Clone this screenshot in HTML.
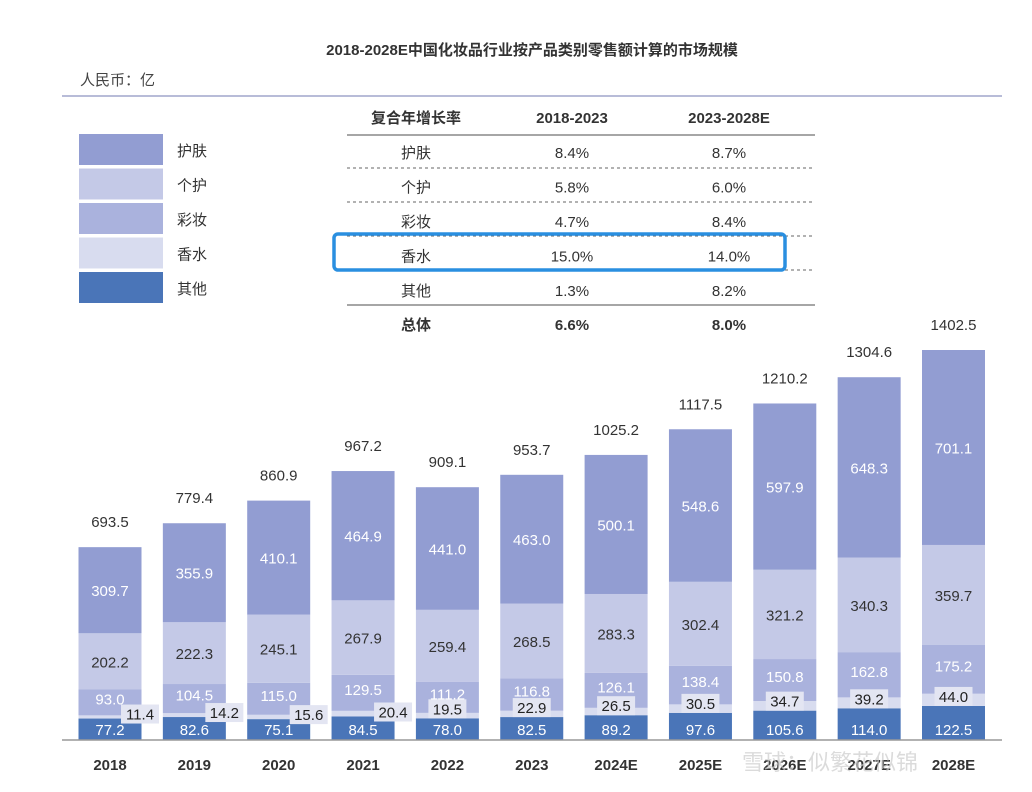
<!DOCTYPE html>
<html><head><meta charset="utf-8"><style>
body{margin:0;background:#fff;}
svg{display:block;font-family:"Liberation Sans","Noto Sans CJK SC",sans-serif;}
</style></head><body>
<svg id="chart" width="1032" height="792" viewBox="0 0 1032 792">
<text x="532" y="55" text-anchor="middle" font-size="15" font-weight="bold" fill="#333">2018-2028E中国化妆品行业按产品类别零售额计算的市场规模</text>
<text x="80" y="85" font-size="15" fill="#444">人民币：亿</text>
<line x1="62" y1="96" x2="1002" y2="96" stroke="#b8bcd8" stroke-width="2"/>
<g id="legend"></g>
<g id="table"></g>
<g id="bars"></g>
<g id="labels"></g>
<line x1="62" y1="740" x2="1002" y2="740" stroke="#999" stroke-width="1.5"/>
<text x="742" y="770" font-size="22" fill="#ccc" opacity="0.7">雪球：似繁花似锦</text>
</svg>
<script>
const categories=["2018","2019","2020","2021","2022","2023","2024E","2025E","2026E","2027E","2028E"];
const other=[77.2,82.6,75.1,84.5,78.0,82.5,89.2,97.6,105.6,114.0,122.5];
const perfume=[11.4,14.2,15.6,20.4,19.5,22.9,26.5,30.5,34.7,39.2,44.0];
const makeup=[93.0,104.5,115.0,129.5,111.2,116.8,126.1,138.4,150.8,162.8,175.2];
const personal=[202.2,222.3,245.1,267.9,259.4,268.5,283.3,302.4,321.2,340.3,359.7];
const skincare=[309.7,355.9,410.1,464.9,441.0,463.0,500.1,548.6,597.9,648.3,701.1];
const totals=["693.5","779.4","860.9","967.2","909.1","953.7","1025.2","1117.5","1210.2","1304.6","1402.5"];
const seriesNames=["护肤","个护","彩妆","香水","其他"];
const cagrRows=["护肤","个护","彩妆","香水","其他"];
const cagr1=["8.4%","5.8%","4.7%","15.0%","1.3%"];
const cagr2=["8.7%","6.0%","8.4%","14.0%","8.2%"];
const total1="6.6%", total2="8.0%";

const NS="http://www.w3.org/2000/svg";
function mk(tag,attrs,parent,txt){const e=document.createElementNS(NS,tag);for(const k in attrs)e.setAttribute(k,attrs[k]);if(txt!==undefined)e.textContent=txt;parent.appendChild(e);return e;}
const colors={"护肤":"#929dd2","个护":"#c4c9e7","彩妆":"#aab2dd","香水":"#d8dcef","其他":"#4a75b8"};
const base=740, scale=390/1402.5;
const x=i=>110+i*84.35;
const y=v=>base-v*scale;
const bw=63;

const lg=document.getElementById('legend');
seriesNames.forEach((n,i)=>{
  const r=mk('rect',{x:79,y:134+i*34.5,width:84,height:31,fill:colors[n]},lg);
  
  
  const t=mk('text',{x:177,y:156+i*34.5,'font-size':15,fill:'#333'},lg,n);
  
  
});

const tb=document.getElementById('table');
const c0=416,c1=572,c2=729;
[["复合年增长率",c0],["2018-2023",c1],["2023-2028E",c2]].forEach(([s,cx],i)=>{
  const t=mk('text',{x:cx,y:123,'text-anchor':'middle','font-size':15,'font-weight':'bold',fill:'#333'},tb,s);
  
  
});
mk('line',{x1:347,y1:135,x2:815,y2:135,stroke:'#888','stroke-width':1.5},tb);
mk('line',{x1:347,y1:305,x2:815,y2:305,stroke:'#888','stroke-width':1.5},tb);
for(let i=0;i<4;i++) mk('line',{x1:347,y1:168+i*34,x2:815,y2:168+i*34,stroke:'#666','stroke-dasharray':'3,3'},tb);
cagrRows.forEach((n,i)=>{
  const yy=158+i*34.5;
  const t=mk('text',{x:c0,y:yy,'text-anchor':'middle','font-size':15,fill:'#333'},tb,n);
  
  
  mk('text',{x:c1,y:yy,'text-anchor':'middle','font-size':15,fill:'#333'},tb,cagr1[i]);
  mk('text',{x:c2,y:yy,'text-anchor':'middle','font-size':15,fill:'#333'},tb,cagr2[i]);
});
[["总体",c0],[total1,c1],[total2,c2]].forEach(([s,cx])=>mk('text',{x:cx,y:330,'text-anchor':'middle','font-size':15,'font-weight':'bold',fill:'#333'},tb,s));
const hl=mk('rect',{x:334,y:234,width:451,height:36,rx:4,fill:'none',stroke:'#2a8fe0','stroke-width':3.5},tb);



const bg=document.getElementById('bars');
const lb=document.getElementById('labels');
const stack=[["其他",other],["香水",perfume],["彩妆",makeup],["个护",personal],["护肤",skincare]];
categories.forEach((c,i)=>{
  let acc=0;
  const cx=x(i);
  stack.forEach(([n,arr],si)=>{
    const v=arr[i];
    const r=mk('rect',{x:cx-bw/2,y:y(acc+v),width:bw,height:v*scale,fill:colors[n]},bg);
    
    
    const mid=y(acc+v/2);
    if(n==="香水"){
      const lx=i<4?cx+30:cx, ly=i<4?y(acc)-4:y(acc)-9;
      mk('rect',{x:lx-19,y:ly-10,width:38,height:19,fill:'#e3e5f2'},lb);
      mk('text',{x:lx,y:ly+5,'text-anchor':'middle','font-size':15,fill:'#222'},lb,v.toFixed(1));
    } else {
      const fill=(n==="其他"||n==="彩妆"||n==="护肤")?'#fff':'#333';
      const yy=n==="其他"?base-5:(n==="彩妆"?mid+2:mid+6);
      mk('text',{x:cx,y:yy,'text-anchor':'middle','font-size':15,fill:fill},lb,v.toFixed(1));
    }
    acc+=v;
  });
  const tt=mk('text',{x:cx,y:y(acc)-20,'text-anchor':'middle','font-size':15,fill:'#333'},lb,totals[i]);
  
  
  const xl=mk('text',{x:cx,y:770,'text-anchor':'middle','font-size':15,'font-weight':'bold',fill:'#333'},lb,c);
  
  
});
</script>
</body></html>
